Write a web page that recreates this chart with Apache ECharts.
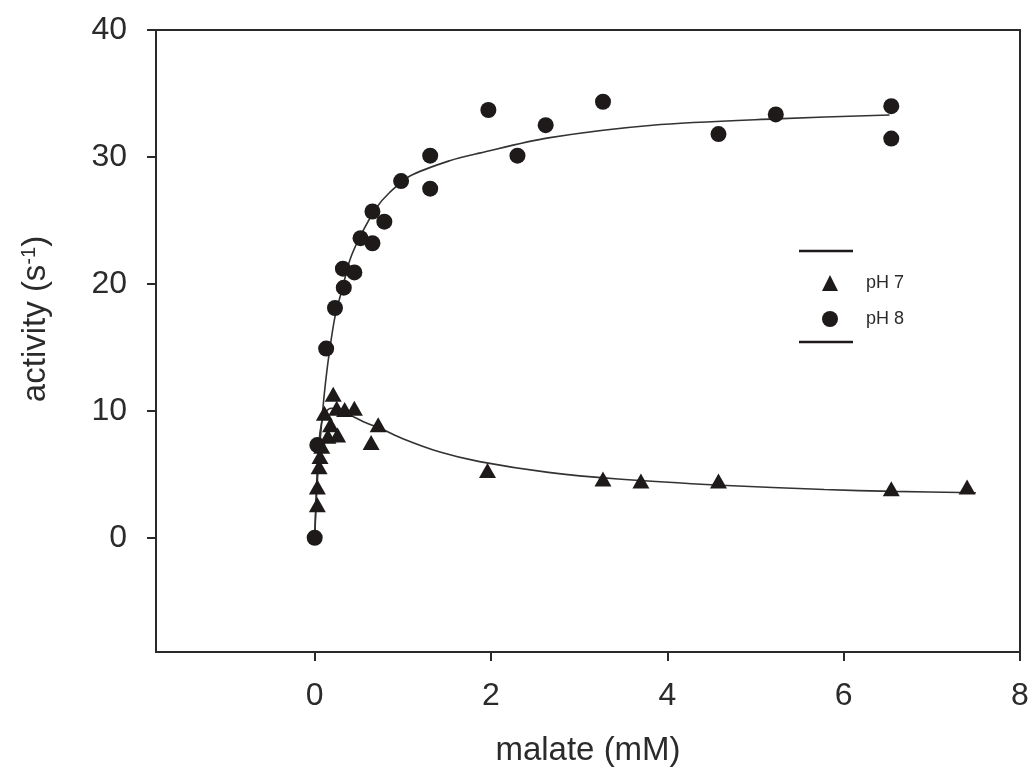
<!DOCTYPE html>
<html>
<head>
<meta charset="utf-8">
<script src="https://cdn.jsdelivr.net/npm/echarts@6/dist/echarts.min.js"></script>
<style>
  html, body { margin: 0; padding: 0; background: #fff; }
  #main { width: 1035px; height: 776px; }
</style>
</head>
<body>
<div id="main"></div>
<script>
// pH 8 points (malate mM, activity s-1)
var ph8X = [0, 0.03, 0.13, 0.23, 0.32, 0.33, 0.45, 0.52, 0.655, 0.655, 0.79, 0.98, 1.31, 1.31, 1.97, 2.30, 2.62, 3.27, 4.58, 5.23, 6.54, 6.54];
var ph8Y = [0, 7.3, 14.9, 18.1, 21.2, 19.7, 20.9, 23.6, 25.7, 23.2, 24.9, 28.1, 30.1, 27.5, 33.7, 30.1, 32.5, 34.35, 31.8, 33.35, 34.0, 31.45];

// pH 7 points
var ph7X = [0.03, 0.03, 0.05, 0.06, 0.08, 0.11, 0.15, 0.18, 0.21, 0.25, 0.26, 0.34, 0.45, 0.64, 0.72, 1.96, 3.27, 3.70, 4.58, 6.54, 7.40];
var ph7Y = [2.6, 4.0, 5.6, 6.4, 7.2, 9.8, 8.0, 8.9, 11.3, 10.2, 8.1, 10.1, 10.2, 7.5, 8.9, 5.3, 4.63, 4.47, 4.47, 3.87, 4.0];

// fitted curves
var fit8X = [0, 0.02, 0.05, 0.076, 0.11, 0.16, 0.23, 0.32, 0.40, 0.52, 0.70, 0.85, 1.08, 1.53, 1.87, 2.65, 3.83, 5.23, 6.52];
var fit8Y = [0, 3.2, 6.6, 8.8, 11.4, 14.3, 17.4, 19.8, 21.9, 23.8, 26.0, 27.2, 28.5, 29.7, 30.3, 31.5, 32.5, 33.0, 33.3];
var fit7X = [0, 0.03, 0.06, 0.1, 0.15, 0.2, 0.3, 0.45, 0.6, 0.75, 1.0, 1.42, 1.87, 2.65, 3.44, 4.61, 5.78, 6.56, 7.50];
var fit7Y = [0, 5.5, 8.3, 9.6, 10.1, 10.2, 10.0, 9.5, 9.0, 8.6, 7.8, 6.75, 6.0, 5.15, 4.63, 4.14, 3.8, 3.65, 3.55];

var xTicks = [0, 2, 4, 6, 8];
var yTicks = [0, 10, 20, 30, 40];

function pairs(xs, ys) {
  var out = [];
  for (var i = 0; i < xs.length; i++) out.push([xs[i], ys[i]]);
  return out;
}

var ink = '#1e1a1a';
var textColor = '#2b2b2b';
var font = 'Liberation Sans, Arial';

var myChart = echarts.init(document.getElementById('main'));
myChart.setOption({
  animation: false,
  backgroundColor: '#fff',
  grid: {
    left: 156, right: 15, top: 30, bottom: 124,
    show: true, borderColor: '#2a2a2a', borderWidth: 2, backgroundColor: 'transparent'
  },
  legend: {
    orient: 'vertical',
    left: 817,
    top: 269,
    itemWidth: 16,
    itemHeight: 16,
    itemGap: 18,
    textStyle: { fontFamily: font, fontSize: 18, color: textColor, padding: [0, 0, 0, 23] },
    data: ['pH 7', 'pH 8']
  },
  xAxis: {
    type: 'value',
    min: -1.8, max: 8,
    name: 'malate (mM)',
    nameLocation: 'middle',
    nameGap: 82,
    nameTextStyle: { fontFamily: font, fontSize: 33, color: textColor },
    axisLine: { show: true, onZero: false, lineStyle: { color: '#2a2a2a', width: 2 } },
    axisTick: { show: true, length: 9, customValues: xTicks, lineStyle: { color: '#2a2a2a', width: 2 } },
    axisLabel: { customValues: xTicks, margin: 28, fontFamily: font, fontSize: 32, color: textColor },
    splitLine: { show: false }
  },
  yAxis: {
    type: 'value',
    min: -9, max: 40,
    name: 'activity (s{sup|-1})',
    nameLocation: 'middle',
    nameGap: 103,
    nameRotate: 90,
    nameTextStyle: {
      fontFamily: font, fontSize: 33, color: textColor, padding: [0, 0, 0, 44],
      rich: { sup: { fontFamily: font, fontSize: 20, color: textColor, verticalAlign: 'top', padding: [0, 0, 14, 0] } }
    },
    axisLine: { show: true, onZero: false, lineStyle: { color: '#2a2a2a', width: 2 } },
    axisTick: { show: true, length: 9, customValues: yTicks, lineStyle: { color: '#2a2a2a', width: 2 } },
    axisLabel: { customValues: yTicks, margin: 29, fontFamily: font, fontSize: 32, color: textColor },
    splitLine: { show: false }
  },
  graphic: [
    { type: 'line', shape: { x1: 799, y1: 251, x2: 853, y2: 251 }, style: { stroke: ink, lineWidth: 2.5 } },
    { type: 'line', shape: { x1: 799, y1: 342, x2: 853, y2: 342 }, style: { stroke: ink, lineWidth: 2.5 } }
  ],
  series: [
    {
      name: 'fit pH 8', type: 'line', data: pairs(fit8X, fit8Y),
      showSymbol: false, smooth: 0.3,
      lineStyle: { color: '#333', width: 1.6 }, z: 1
    },
    {
      name: 'fit pH 7', type: 'line', data: pairs(fit7X, fit7Y),
      showSymbol: false, smooth: 0.3,
      lineStyle: { color: '#333', width: 1.6 }, z: 1
    },
    {
      name: 'pH 7', type: 'scatter', data: pairs(ph7X, ph7Y),
      symbol: 'triangle', symbolSize: [17, 15],
      itemStyle: { color: ink, opacity: 1 }, z: 3
    },
    {
      name: 'pH 8', type: 'scatter', data: pairs(ph8X, ph8Y),
      symbol: 'circle', symbolSize: 16,
      itemStyle: { color: ink, opacity: 1 }, z: 3
    }
  ]
});
</script>
</body>
</html>
